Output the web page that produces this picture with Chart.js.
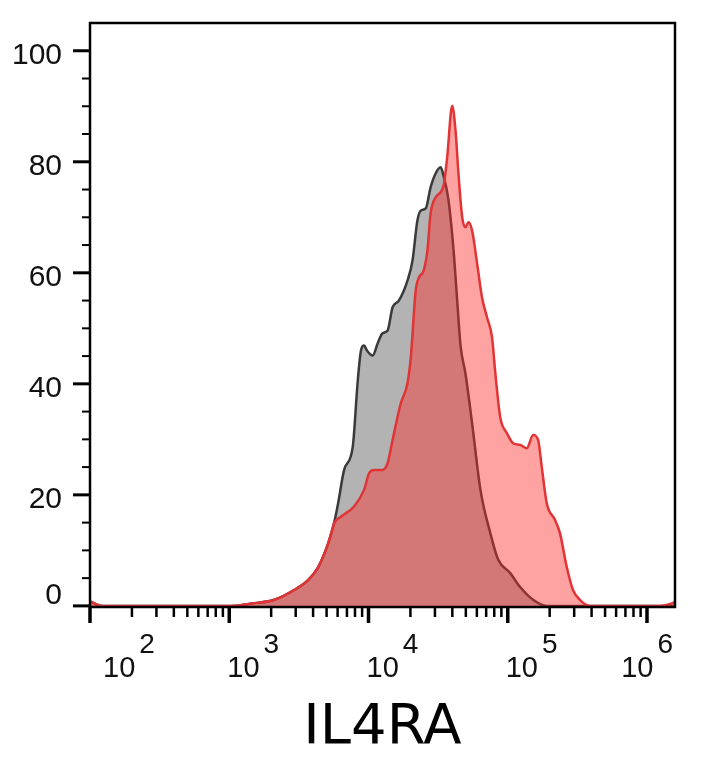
<!DOCTYPE html>
<html>
<head>
<meta charset="utf-8">
<title>IL4RA</title>
<script src="https://cdn.jsdelivr.net/npm/chart.js@4.4.1/dist/chart.umd.min.js"></script>
<style>
  html, body { margin: 0; padding: 0; background: #fff; }
  #wrap { width: 704px; height: 768px; position: relative; }
</style>
</head>
<body>
<div id="wrap"><canvas id="histChart"></canvas></div>
<script>
// fluorescence intensity (x) and % of max (y)
const grayX = [100, 123, 1042, 1521, 2113, 2938, 3698, 4355, 5140, 5702, 6053, 6683, 7709, 8375, 8831, 9290, 9750, 10715, 11641, 12618, 13709, 14894, 16520, 19055, 20701, 22439, 23714, 25763, 27925, 30339, 32961, 34594, 37584, 40832, 43351, 45814, 49659, 55463, 63680, 74989, 85507, 104232, 122744, 152055, 190546, 1227000, 1589000];
const grayY = [0.8, 0, 0, 0.5, 1.1, 2.9, 4.7, 7.0, 11.3, 15.3, 18.5, 24.5, 28.7, 40.6, 46.0, 46.9, 46.0, 45.1, 47.3, 49.1, 49.6, 53.8, 55.0, 58.6, 62.2, 69.4, 71.2, 71.6, 75.4, 77.9, 79.0, 77.5, 73.0, 64.0, 55.0, 46.9, 41.9, 32.9, 20.9, 13.1, 8.3, 5.9, 3.4, 1.1, 0, 0, 0];

const redX = [100, 123, 1042, 1521, 2113, 2938, 3698, 4355, 5140, 5702, 6368, 7870, 9290, 10093, 10940, 12618, 13709, 14894, 17061, 19055, 20137, 21827, 23067, 24889, 26485, 27925, 30339, 34594, 36728, 39902, 42170, 44259, 47098, 49659, 52240, 55463, 60256, 65313, 70958, 77090, 81470, 88308, 98627, 109396, 122744, 137088, 152055, 165196, 175388, 190546, 218270, 237137, 264850, 293765, 329610, 388150, 1227000, 1449000, 1589000];
const redY = [0.8, 0, 0, 0.5, 1.1, 2.9, 4.7, 7.0, 11.3, 15.0, 16.1, 17.9, 20.9, 23.9, 24.5, 24.5, 25.7, 29.9, 36.5, 40.1, 44.8, 56.8, 59.2, 60.4, 64.0, 70.7, 73.6, 75.7, 80.8, 90.1, 85.6, 77.9, 70.0, 68.2, 69.1, 67.6, 61.7, 55.6, 52.0, 48.4, 41.9, 34.0, 31.1, 29.3, 29.0, 28.4, 30.8, 29.9, 25.1, 18.5, 15.5, 13.1, 7.1, 2.9, 1.1, 0, 0, 0.3, 0.7];

const yTickLabels = [0, 20, 40, 60, 80, 100];
const xDecades = [2, 3, 4, 5, 6];
const axisTitle = 'IL4RA';

function toPoints(xs, ys) {
  return xs.map((x, i) => ({ x: x, y: ys[i] }));
}

// frame, tick marks and labels drawn by hand (flow-cytometry style)
const axesPlugin = {
  id: 'flowAxes',
  afterDraw(chart) {
    const ctx = chart.ctx;
    const a = chart.chartArea;
    const xs = chart.scales.x;
    const ys = chart.scales.y;
    ctx.save();
    ctx.strokeStyle = '#000';
    ctx.fillStyle = '#111';

    // y ticks
    for (let v = 0; v <= 100; v += 5) {
      const py = ys.getPixelForValue(v);
      const major = yTickLabels.includes(v);
      ctx.lineWidth = major ? 3 : 2;
      ctx.beginPath();
      ctx.moveTo(a.left - (major ? 17 : 8), py);
      ctx.lineTo(a.left, py);
      ctx.stroke();
    }
    ctx.font = '30px "Liberation Sans", Arial, sans-serif';
    ctx.textAlign = 'right';
    ctx.textBaseline = 'middle';
    yTickLabels.forEach(v => {
      const py = ys.getPixelForValue(v);
      ctx.fillText(String(v), 62, v === 0 ? py - 10 : py + 5);
    });

    // x ticks (decades + 2..9 minors)
    xDecades.forEach(d => {
      for (let k = 1; k <= 9; k++) {
        const val = k * Math.pow(10, d);
        if (val < xs.min - 1e-6 || val > xs.max) continue;
        const px = xs.getPixelForValue(val);
        const major = k === 1;
        ctx.lineWidth = major ? 3.5 : 2.5;
        ctx.beginPath();
        ctx.moveTo(px, a.bottom);
        ctx.lineTo(px, a.bottom + (major ? 16 : 10));
        ctx.stroke();
      }
    });

    // x labels 10^n
    ctx.textAlign = 'left';
    ctx.textBaseline = 'alphabetic';
    xDecades.forEach(d => {
      const px = xs.getPixelForValue(Math.pow(10, d));
      ctx.font = '29px "Liberation Sans", Arial, sans-serif';
      const wBase = ctx.measureText('10').width;
      ctx.font = '28px "Liberation Sans", Arial, sans-serif';
      const wSup = ctx.measureText(String(d)).width;
      let left = Math.max(px - 2, a.left + 13);
      if (left + wBase + 4 + wSup > a.right - 2) left = a.right - 2 - wSup - 4 - wBase;
      ctx.font = '29px "Liberation Sans", Arial, sans-serif';
      ctx.fillText('10', left, 677);
      ctx.font = '28px "Liberation Sans", Arial, sans-serif';
      ctx.fillText(String(d), left + wBase + 4, 653);
    });

    // axis title
    ctx.font = '56px "DejaVu Sans", sans-serif';
    ctx.textAlign = 'center';
    ctx.fillStyle = '#000';
    ctx.fillText(axisTitle, (a.left + a.right) / 2, 743);

    // frame
    ctx.lineWidth = 2.5;
    ctx.strokeStyle = '#000';
    ctx.strokeRect(a.left, a.top, a.right - a.left, a.bottom - a.top);
    ctx.restore();
  }
};

const ctx = document.getElementById('histChart');
const chart = new Chart(ctx, {
  type: 'line',
  data: {
    datasets: [{
      label: 'Isotype',
      data: toPoints(grayX, grayY),
      borderColor: '#3a3a3a',
      backgroundColor: '#b3b3b3',
      borderWidth: 2.5,
      fill: 'origin',
      pointRadius: 0,
      cubicInterpolationMode: 'monotone',
      order: 2
    }, {
      label: 'IL4RA',
      data: toPoints(redX, redY),
      borderColor: '#e03436',
      backgroundColor: 'rgba(255, 40, 40, 0.43)',
      borderWidth: 2.5,
      fill: 'origin',
      pointRadius: 0,
      cubicInterpolationMode: 'monotone',
      order: 1
    }]
  },
  options: {
    responsive: true,
    maintainAspectRatio: false,
    devicePixelRatio: 1,
    animation: false,
    layout: {
      padding: { left: 90, right: 29, top: 23, bottom: 161 }
    },
    plugins: {
      legend: { display: false },
      tooltip: { enabled: false }
    },
    scales: {
      x: {
        type: 'logarithmic',
        min: 100,
        max: 1589000,
        display: false
      },
      y: {
        type: 'linear',
        min: -0.2,
        max: 105,
        display: false
      }
    }
  },
  plugins: [axesPlugin]
});
</script>
</body>
</html>
